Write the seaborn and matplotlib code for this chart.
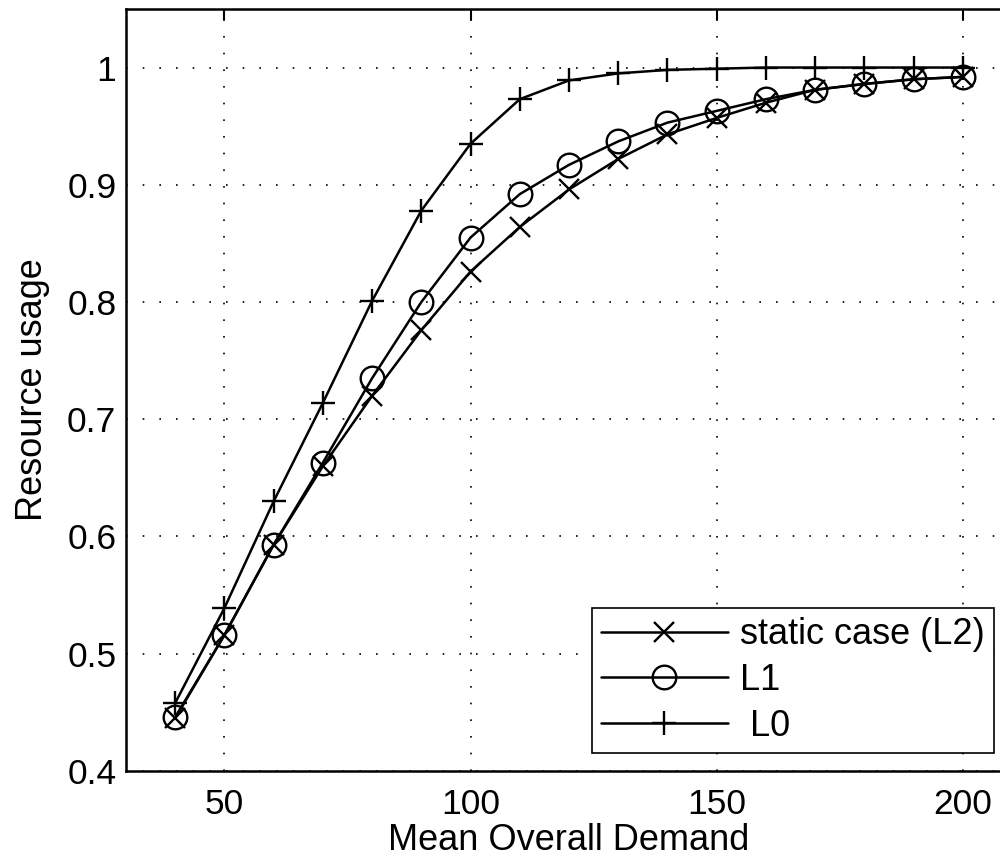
import numpy as np
import pandas as pd
import seaborn as sns
import matplotlib.pyplot as plt

demand = [40, 50, 60, 70, 80, 90, 100, 110, 120, 130, 140, 150, 160, 170, 180, 190, 200]

usage_l2 = [0.445, 0.516, 0.593, 0.660, 0.720, 0.776, 0.826, 0.864, 0.896, 0.922,
            0.943, 0.957, 0.970, 0.981, 0.986, 0.990, 0.992]
usage_l1 = [0.446, 0.516, 0.593, 0.663, 0.735, 0.800, 0.855, 0.892, 0.917, 0.937,
            0.953, 0.963, 0.973, 0.981, 0.986, 0.990, 0.992]
usage_l0 = [0.458, 0.539, 0.630, 0.714, 0.801, 0.878, 0.935, 0.973, 0.989, 0.995,
            0.998, 0.999, 1.0, 1.0, 1.0, 1.0, 1.0]

labels = ["static case (L2)", "L1", " L0"]

sns.set_style("white")
plt.rcParams['font.family'] = ['Liberation Sans', 'DejaVu Sans']
plt.rcParams['font.size'] = 26
plt.rcParams['text.color'] = 'black'
plt.rcParams['axes.labelcolor'] = 'black'

fig = plt.figure(figsize=(10, 8.65), dpi=100)
ax = fig.add_axes([0.126, 0.1087, 0.886, 0.881])

df = pd.DataFrame({"demand": demand, "l2": usage_l2, "l1": usage_l1, "l0": usage_l0})

# three series, black with different markers (matlab style)
sns.lineplot(data=df, x="demand", y="l2", ax=ax, color="black", marker="x",
             markersize=14, markeredgewidth=1.7, markeredgecolor="black",
             linewidth=1.8, label=labels[0])
sns.lineplot(data=df, x="demand", y="l1", ax=ax, color="black", marker="o",
             markersize=17, markeredgewidth=1.7, markeredgecolor="black",
             markerfacecolor="none", linewidth=1.8, label=labels[1])
sns.lineplot(data=df, x="demand", y="l0", ax=ax, color="black", marker="+",
             markersize=17, markeredgewidth=1.7, markeredgecolor="black",
             linewidth=1.8, label=labels[2])

ax.set_xlim(30, 210)
ax.set_ylim(0.4, 1.05)
ax.set_xticks([50, 100, 150, 200])
ax.set_yticks([0.4, 0.5, 0.6, 0.7, 0.8, 0.9, 1.0])
ax.set_yticklabels(["0.4", "0.5", "0.6", "0.7", "0.8", "0.9", "1"])
ax.set_xlabel("Mean Overall Demand", fontsize=26, labelpad=2)
ax.set_ylabel("Resource usage", fontsize=26, labelpad=12)

ax.grid(True, color="black", linestyle=(0, (1, 9)), linewidth=1.2)
ax.tick_params(direction="in", length=8, width=1.5, top=True, right=True,
               labelsize=25.5, colors="black")
ax.tick_params(axis="x", pad=12)
ax.tick_params(axis="y", pad=7)
for sp in ax.spines.values():
    sp.set_visible(True)
    sp.set_color("black")
    sp.set_linewidth(1.8)

leg = ax.legend(loc="lower right", bbox_to_anchor=(0.994, 0.1295),
                bbox_transform=fig.transFigure, borderaxespad=0,
                fontsize=26, handlelength=3.5, handletextpad=0.35,
                labelspacing=0.3, borderpad=0.25, fancybox=False,
                frameon=True, edgecolor="black", framealpha=1)
leg.get_frame().set_linewidth(1.2)

fig.savefig("out.png", dpi=100)
